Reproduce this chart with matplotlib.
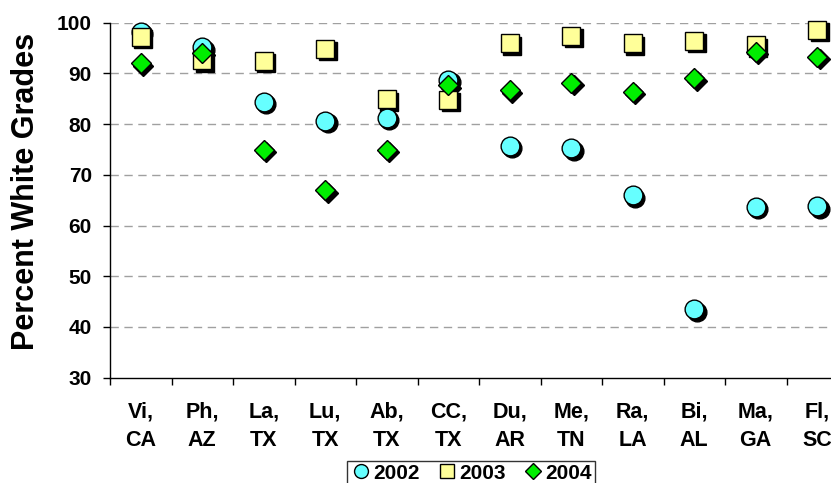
import matplotlib
matplotlib.use("Agg")
import matplotlib.pyplot as plt
import matplotlib.transforms as mtransforms
from matplotlib.lines import Line2D

plt.rcParams['font.family'] = ['Liberation Sans', 'DejaVu Sans']
plt.rcParams['font.weight'] = 'bold'

categories = ["Vi,\nCA", "Ph,\nAZ", "La,\nTX", "Lu,\nTX", "Ab,\nTX", "CC,\nTX",
              "Du,\nAR", "Me,\nTN", "Ra,\nLA", "Bi,\nAL", "Ma,\nGA", "Fl,\nSC"]
y2002 = [98.2, 95.2, 84.4, 80.7, 81.3, 88.8, 75.7, 75.2, 66.0, 43.5, 63.7, 63.8]
y2003 = [97.2, 92.6, 92.5, 94.9, 84.9, 84.8, 95.9, 97.4, 95.9, 96.4, 95.6, 98.6]
y2004 = [92.0, 94.1, 74.9, 67.0, 74.9, 87.7, 86.7, 88.2, 86.4, 89.0, 94.3, 93.3]
series_labels = ["2002", "2003", "2004"]
yticks = [30, 40, 50, 60, 70, 80, 90, 100]

fig = plt.figure(figsize=(8.31, 4.83), dpi=100)
ax = fig.add_axes([110/831, 1 - 377.7/483, (848-110)/831, (377.7-22.7)/483])

x = list(range(len(categories)))
shadow = mtransforms.offset_copy(ax.transData, fig=fig, x=2.5, y=-2.5, units='dots')

styles = [
    (y2002, 'o', '#66FFFF', 13.5),
    (y2003, 's', '#FFFF99', 13.0),
    (y2004, 'D', '#00EE00', 10.5),
]
for vals, m, c, ms in styles:
    ax.plot(x, vals, linestyle='none', marker=m, markersize=ms, color='black',
            markeredgecolor='black', transform=shadow, zorder=3, clip_on=False)
    ax.plot(x, vals, linestyle='none', marker=m, markersize=ms, markerfacecolor=c,
            markeredgecolor='black', markeredgewidth=1.0, zorder=4, clip_on=False)

ax.set_xlim(-0.5, len(categories) - 0.5)
ax.set_ylim(30, 100)
ax.set_yticks(yticks)
ax.set_yticklabels([str(v) for v in yticks], fontsize=15, fontweight='bold')
ax.set_xticks([i + 0.5 for i in range(-1, len(categories))])
ax.set_xticklabels([])
ax.set_xticks(x, minor=True)
ax.set_xticklabels(categories, minor=True, fontsize=15.5, fontweight='bold', linespacing=1.45)
ax.tick_params(axis='x', which='minor', length=0, pad=17)
ax.tick_params(axis='x', which='major', length=5, width=1, direction='out')
ax.tick_params(axis='y', length=5, width=1, direction='out', pad=8)

for v in yticks[1:]:
    ax.axhline(v, color='#A0A0A0', linestyle=(0, (6, 4)), linewidth=1.0, zorder=1)

for s in ['top', 'right']:
    ax.spines[s].set_visible(False)
ax.spines['left'].set_linewidth(1.0)
ax.spines['bottom'].set_linewidth(1.0)

fig.text(26/831, 1 - 191/483, "Percent White Grades", rotation=90, fontsize=22,
         fontweight='bold', ha='center', va='center')

handles = [
    Line2D([], [], linestyle='none', marker='o', markersize=10, markerfacecolor='#66FFFF', markeredgecolor='black'),
    Line2D([], [], linestyle='none', marker='s', markersize=10, markerfacecolor='#FFFF99', markeredgecolor='black'),
    Line2D([], [], linestyle='none', marker='D', markersize=8, markerfacecolor='#00EE00', markeredgecolor='black'),
]
leg = fig.legend(handles, series_labels, loc='lower center', bbox_to_anchor=(471/831, -0.006),
                 ncol=3, frameon=True, fancybox=False, edgecolor='black',
                 prop={'size': 15, 'weight': 'bold'}, handletextpad=0.1, columnspacing=0.8,
                 borderpad=0.15, handlelength=1.0, borderaxespad=0)
leg.get_frame().set_linewidth(1.0)

fig.savefig("out.png", dpi=100)
